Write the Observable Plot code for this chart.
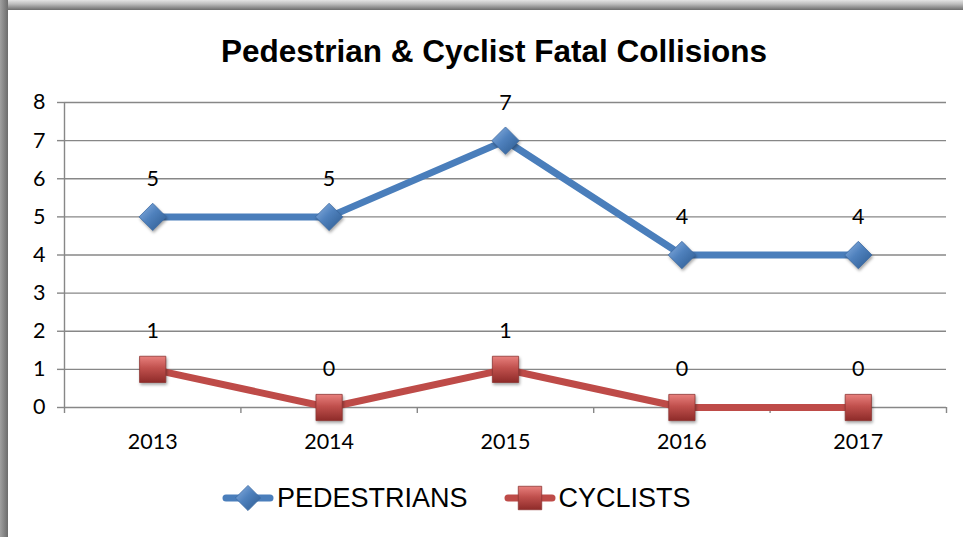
<!DOCTYPE html>
<html><head><meta charset="utf-8">
<script src="https://cdn.jsdelivr.net/npm/d3@7"></script>
<script src="https://cdn.jsdelivr.net/npm/@observablehq/plot@0.6"></script>
<style>
html,body{margin:0;padding:0;background:#fff;}
#wrap{position:relative;width:963px;height:537px;overflow:hidden;background:#fff;}
#topbar{position:absolute;left:0;top:0;width:963px;height:10px;background:linear-gradient(#e4e4e4,#bdbdbd 40%,#6c6c6c);}
#leftbar{position:absolute;left:0;top:0;width:8px;height:537px;background:linear-gradient(90deg,#a0a0a0,#6c6c6c);}
#title{position:absolute;top:36px;left:494px;transform:translateX(-50%);white-space:nowrap;font-family:"Liberation Sans",Arial,sans-serif;font-weight:bold;font-size:31.5px;line-height:1;color:#000;}
#chart{position:absolute;left:0;top:80px;}
#legend{position:absolute;top:483px;left:222px;display:flex;align-items:center;font-family:"Liberation Sans",Arial,sans-serif;font-size:27px;line-height:1;color:#000;}
#legend .item{display:flex;align-items:center;}
#legend svg{display:block;}
</style></head>
<body>
<svg width="0" height="0" style="position:absolute">
  <defs>
    <linearGradient id="gBlue" x1="0" y1="0" x2="1" y2="1">
      <stop offset="0" stop-color="#8fb4e3"/>
      <stop offset="0.45" stop-color="#4f81bd"/>
      <stop offset="1" stop-color="#2c5a8f"/>
    </linearGradient>
    <linearGradient id="gRed" x1="0" y1="0" x2="0" y2="1">
      <stop offset="0" stop-color="#e8807d"/>
      <stop offset="0.45" stop-color="#c0504d"/>
      <stop offset="1" stop-color="#8e2b29"/>
    </linearGradient>
  </defs>
</svg>
<div id="wrap">
  <div id="topbar"></div>
  <div id="leftbar"></div>
  <div id="title">Pedestrian &amp; Cyclist Fatal Collisions</div>
  <div id="chart"></div>
  <div id="legend"></div>
</div>
<script>
const years = [2013, 2014, 2015, 2016, 2017];
const pedestrians = [5, 5, 7, 4, 4];
const cyclists = [1, 0, 1, 0, 0];
const yTicks = [0, 1, 2, 3, 4, 5, 6, 7, 8];
const seriesNames = ["PEDESTRIANS", "CYCLISTS"];
const seriesColors = ["#4a7ebb", "#be4b48"];

const ped = years.map((y, i) => ({year: y, value: pedestrians[i]}));
const cyc = years.map((y, i) => ({year: y, value: cyclists[i]}));
const bounds = years.map(y => y - 0.5).concat([years[years.length - 1] + 0.5]);
const gridColor = "#878787";
const fs = 21.5;

const chart = Plot.plot({
  width: 963, height: 380,
  marginLeft: 64, marginRight: 17, marginTop: 22, marginBottom: 53,
  style: {fontFamily: "Lato, 'Open Sans', sans-serif", fontSize: fs + "px", color: "#000", background: "transparent"},
  x: {type: "linear", domain: [bounds[0], bounds[bounds.length - 1]], axis: null},
  y: {domain: [0, 8], axis: null},
  marks: [
    Plot.ruleY(yTicks, {stroke: gridColor, strokeWidth: 1.4}),
    Plot.ruleX([bounds[0]], {y1: 0, y2: 8, stroke: gridColor, strokeWidth: 1.4}),
    Plot.ruleX(bounds, {y1: 0, y2: 0, insetBottom: -6, stroke: gridColor, strokeWidth: 1.4}),
    Plot.axisY({ticks: yTicks, tickSize: 7, tickPadding: 12, stroke: gridColor, strokeWidth: 1.4, fill: "#000", fontSize: fs, label: null}),
    Plot.axisX({ticks: years, tickSize: 0, tickPadding: 26, tickFormat: d => String(d), fill: "#000", fontSize: fs, label: null}),
    Plot.line(ped, {x: "year", y: "value", stroke: seriesColors[0], strokeWidth: 7, strokeLinejoin: "round"}),
    Plot.line(cyc, {x: "year", y: "value", stroke: seriesColors[1], strokeWidth: 7, strokeLinejoin: "round"}),
    Plot.dot(ped, {x: "year", y: "value", symbol: "diamond2", r: 12.3, fill: "url(#gBlue)", stroke: "#3b6aa3", strokeWidth: 0.8}),
    Plot.dot(cyc, {x: "year", y: "value", symbol: "square", r: 14.8, fill: "url(#gRed)", stroke: "#8e3634", strokeWidth: 0.8}),
    Plot.text(ped, {x: "year", y: "value", text: d => String(d.value), dy: -38, fontSize: fs, fill: "#000"}),
    Plot.text(cyc, {x: "year", y: "value", text: d => String(d.value), dy: -38, fontSize: fs, fill: "#000"})
  ]
});
d3.select(chart).selectAll("[aria-label=dot] path").style("filter", "drop-shadow(1px 2px 1.5px rgba(0,0,0,0.35))");
document.getElementById("chart").appendChild(chart);

// legend
const legend = d3.select("#legend");
const symbols = [d3.symbolDiamond2, d3.symbolSquare];
const sizes = [Math.PI * 12.3 * 12.3 * 0.85, Math.PI * 14.8 * 14.8 * 0.8];
const fills = ["url(#gBlue)", "url(#gRed)"];
seriesNames.forEach((name, i) => {
  const item = legend.append("div").attr("class", "item").style("margin-right", i === 0 ? "36px" : "0");
  const s = item.append("svg").attr("width", 52).attr("height", 30);
  s.append("line").attr("x1", 4).attr("x2", 48).attr("y1", 15).attr("y2", 15)
    .attr("stroke", seriesColors[i]).attr("stroke-width", 7).attr("stroke-linecap", "round");
  s.append("path").attr("transform", "translate(26,15)").attr("d", d3.symbol(symbols[i], sizes[i])())
    .attr("fill", fills[i]).attr("stroke", i === 0 ? "#3b6aa3" : "#8e3634").attr("stroke-width", 0.8);
  item.append("span").style("margin-left", "3px").text(name);
});
</script>
</body></html>
